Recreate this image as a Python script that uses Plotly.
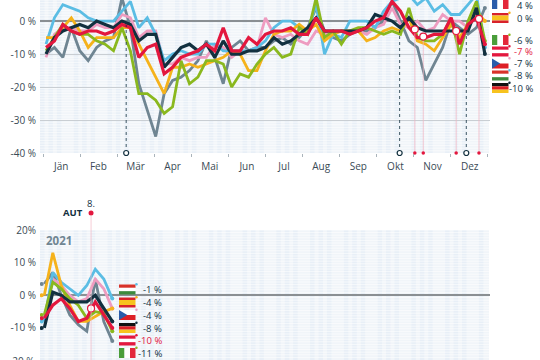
import plotly.graph_objects as go

W, H = 540, 360
months = ["Jän","Feb","Mär","Apr","Mai","Jun","Jul","Aug","Sep","Okt","Nov","Dez"]
month_pos = [1.8,6.2,10.6,15,19.4,23.8,28.2,32.6,37,41.4,45.8,50.2]

austria = [-8,-6,-1,-3,-4,-3,-3,-4,-3,-1,-2,-11,-8,-7,-16,-14,-11,-10,-9,-7,-9,-2,-9,-9,-5,-7,-4,-3,-3,-2,-4,-4,1,-3,-3,-3,-4,-3,-2,0,1,6,3,-2,-5,-5,-4,-4,1,-7,-1,1,-7]
germany = [-10,-5,-3,-2,-1,-2,0,-1,-2,0,-1,-6,-4,-4,-14,-11,-8,-7,-9,-7,-11,-6,-10,-10,-9,-9,-8,-5,-7,-6,-4,-2,1,-3,-3,-3,-3,-3,-2,2,1,0,-2,1,-2,-3,-3,-3,-3,-3,-3,4,-10]
italy = [-9,-5,-1,-3,-4,-4,-6,-7,-9,-2,-9,-22,-22,-24,-28,-26,-12,-19,-17,-12,-12,-13,-20,-16,-17,-13,-10,-8,-11,-10,-2,-4,7,-5,-3,-7,-3,-2,-2,-3,-4,-3,-4,4,-5,-6,-6,-4,1,-10,0,6,-6]
spain = [-5,-5,-2,1,-3,-8,-5,-5,-5,-2,-2,-7,-12,-17,-22,-14,-14,-13,-14,-13,-12,-11,-9,-10,-15,-15,-9,-4,-3,-3,-1,-3,-1,-6,-4,-3,-3,-3,-6,-5,-3,-2,-3,1,-6,-7,-9,-5,-1,-5,-1,3,0]
france = [-10,-8,-11,-2,-9,-12,-8,-6,-5,7,-2,-19,-27,-35,-22,-18,-17,-15,-12,-6,-11,-19,-8,-6,-9,-8,-8,-6,-5,-7,-5,-2,4,-3,-5,-6,-4,-3,-3,-2,0,6,0,-6,-8,-18,-13,-8,0,-2,-4,-2,4]
hungary = [-7,1,5,4,3,1,0,0,0,3,6,-2,1,-4,-12,-10,-9,-10,-10,-7,-7,-9,-9,-9,-9,-8,-6,-2,0,0,-2,-3,5,-10,-4,-5,0,0,0,-2,3,6,7,8,5,7,3,5,2,2,5,8,-8]
czech = [-11,-4,-2,-2,-3,-3,-1,-2,-2,2,1,-5,-3,-3,-13,-13,-11,-12,-11,-11,-7,-8,-11,-9,-9,-8,1,-4,-5,-4,-6,-7,-3,-4,-4,-3,-3,-3,-4,-2,-1,4,-1,-2,0,-3,-2,2,0,0,-2,2,-7]

austria21 = [-7,-3,-1,-4,-8,-7,-2,-6,-10]
germany21 = [-10,1,0,-2,-2,-2,0,-4,-8]
italy21 = [-6,4,2,-1,-3,-7,-5,-5.5,-11]
spain21 = [0,13,3,-3,-8,-8,-6.5,-5,-4]
france21 = [3.5,7,0,-6,-9,-11,5,-8,-14]
hungary21 = [-8,7,4,2,0,3,8,5,-1]
czech21 = [-7,5,3,0,-2,-1,5,2,-4]

RED, DARK, GREEN, ORANGE, GREY, BLUE, PINK = "#e3173e","#12303f","#8ab81e","#f5b21b","#6f8592","#5bbde4","#ee9cc0"
series = [("fr",france,france21,GREY),("cz",czech,czech21,PINK),("hu",hungary,hungary21,BLUE),
          ("es",spain,spain21,ORANGE),("it",italy,italy21,GREEN),("de",germany,germany21,DARK),("at",austria,austria21,RED)]

top_labels = [("4 %",DARK),("0 %",DARK),("-6 %",DARK),("-7 %",RED),("-7 %",DARK),("-8 %",DARK),("-10 %",DARK)]
top_flags = ["fr","es","it","at","cz","hu","de"]
top_flag_y = [-1,13,35,46.5,58.5,70.5,83]
bot_labels = [("-1 %",DARK),("-4 %",DARK),("-4 %",DARK),("-8 %",DARK),("-10 %",RED),("-11 %",DARK)]
bot_flags = ["hu","es","cz","de","at","it"]
bot_flag_y = [284.5,297.5,310,323,335.5,348]
dot_colors = dict(fr=GREY,es=ORANGE,it=GREEN,at=RED,cz=PINK,hu=BLUE,de=DARK)

black_events = [9.5,41.9,49.8]
black_event_y = [-1,-2,-2]
red_events = [43.7,44.7,48.6,51.3]
red_event_y = [-2.5,-4.7,-3,0.7]

def px(v): return v / W
def py(v): return 1 - v / H

fig = go.Figure()
left, right = 40, 490
x0a, stepa = 46, 8.44
x0b, stepb = 44.3, 8.5
ra = [(left-x0a)/stepa, (right-x0a)/stepa]
rb = [(left-x0b)/stepb, (right-x0b)/stepb]

for name, vals, vals21, col in series:
    w = 3.2 if name in ("at","de") else 2.8
    fig.add_trace(go.Scatter(x=list(range(len(vals))), y=vals, mode="lines", line=dict(color=col, width=w), xaxis="x", yaxis="y", showlegend=False, hoverinfo="skip"))
    fig.add_trace(go.Scatter(x=[-0.9,52], y=[vals[0],vals[-1]], mode="markers", marker=dict(color=col,size=4), xaxis="x", yaxis="y", showlegend=False, hoverinfo="skip"))
    fig.add_trace(go.Scatter(x=list(range(len(vals21))), y=vals21, mode="lines", line=dict(color=col, width=w), xaxis="x2", yaxis="y2", showlegend=False, hoverinfo="skip"))
    fig.add_trace(go.Scatter(x=[-0.3,8], y=[vals21[0],vals21[-1]], mode="markers", marker=dict(color=col,size=4), xaxis="x2", yaxis="y2", showlegend=False, hoverinfo="skip"))

for ex, ey in zip(black_events, black_event_y):
    fig.add_trace(go.Scatter(x=[ex,ex], y=[-40,ey], mode="lines", line=dict(color=DARK,width=0.8,dash="dot"), xaxis="x", yaxis="y", showlegend=False, hoverinfo="skip"))
    fig.add_trace(go.Scatter(x=[ex], y=[-40], mode="markers", marker=dict(color="white",size=5,line=dict(color=DARK,width=1.2)), xaxis="x", yaxis="y", showlegend=False, hoverinfo="skip", cliponaxis=False))
for ex, ey in zip(red_events, red_event_y):
    fig.add_trace(go.Scatter(x=[ex,ex], y=[-40,ey], mode="lines", line=dict(color="#f3b3c0",width=0.7), xaxis="x", yaxis="y", showlegend=False, hoverinfo="skip"))
    fig.add_trace(go.Scatter(x=[ex], y=[-40], mode="markers", marker=dict(color=RED,size=3.5), xaxis="x", yaxis="y", showlegend=False, hoverinfo="skip", cliponaxis=False))
    fig.add_trace(go.Scatter(x=[ex], y=[ey], mode="markers", marker=dict(color="white",size=7,line=dict(color=RED,width=1.2)), xaxis="x", yaxis="y", showlegend=False, hoverinfo="skip"))
fig.add_trace(go.Scatter(x=[5.5], y=[-4], mode="markers", marker=dict(color="white",size=7,line=dict(color=RED,width=1.2)), xaxis="x2", yaxis="y2", showlegend=False, hoverinfo="skip"))

shapes = []
for dom_top, dom_bot in [(0,153),(230,360)]:
    shapes.append(dict(type="rect", xref="paper", yref="paper", x0=px(left), x1=px(right-1), y0=py(dom_top), y1=py(dom_bot), fillcolor="#f1f5f9", line_width=0, layer="below"))
    for wk in range(53):
        xa = left + wk*8.44
        if wk % 4 != 3:
            shapes.append(dict(type="rect", xref="paper", yref="paper", x0=px(xa), x1=px(xa+4.5), y0=py(dom_top), y1=py(dom_bot), fillcolor="#e8eff7", line_width=0, layer="below"))
    yy = dom_top
    while yy < dom_bot:
        shapes.append(dict(type="line", xref="paper", yref="paper", x0=px(left), x1=px(right-1), y0=py(yy), y1=py(yy), line=dict(color="rgba(255,255,255,0.6)",width=1), layer="below"))
        yy += 2.6

# the 2021 marker sits above the plot area: x follows the axis, y is on the page
shapes.append(dict(type="line", xref="x2", yref="paper", x0=5.5, x1=5.5, y0=py(360), y1=py(216), line=dict(color="#f3b8c4",width=0.7), layer="above"))
shapes.append(dict(type="circle", xref="x2", yref="paper", xsizemode="pixel", ysizemode="pixel", xanchor=5.5, yanchor=py(213), x0=-2.5, x1=2.5, y0=-2.5, y1=2.5, fillcolor=RED, line_width=0, layer="above"))

def flag(code, x, y, w=16.5, h=10):
    rects = []
    def r(a,b,c,d,col):
        rects.append(dict(type="rect", xref="paper", yref="paper", x0=px(x+a*w), x1=px(x+b*w), y0=py(y+c*h), y1=py(y+d*h), fillcolor=col, line_width=0, layer="above"))
    if code=="fr":
        r(0,1/3,0,1,"#2a5caa"); r(1/3,2/3,0,1,"white"); r(2/3,1,0,1,"#e3273a")
    if code=="it":
        r(0,1/3,0,1,"#4a9d3a"); r(1/3,2/3,0,1,"white"); r(2/3,1,0,1,"#e3273a")
    if code=="es":
        r(0,1,0,.25,"#d8222a"); r(0,1,.25,.75,"#f7c31e"); r(0,1,.75,1,"#d8222a")
    if code=="at":
        r(0,1,0,1/3,"#e3173e"); r(0,1,1/3,2/3,"white"); r(0,1,2/3,1,"#e3173e")
    if code=="hu":
        r(0,1,0,1/3,"#d8322a"); r(0,1,1/3,2/3,"white"); r(0,1,2/3,1,"#3d8a3d")
    if code=="de":
        r(0,1,0,1/3,"#111111"); r(0,1,1/3,2/3,"#dd1f26"); r(0,1,2/3,1,"#f7c31e")
    if code=="cz":
        r(0,1,0,.5,"white"); r(0,1,.5,1,"#dd1f26")
        rects.append(dict(type="path", xref="paper", yref="paper",
            path=f"M {px(x)} {py(y)} L {px(x+w*.5)} {py(y+h/2)} L {px(x)} {py(y+h)} Z",
            fillcolor="#2a5caa", line_width=0, layer="above"))
    rects.append(dict(type="circle", xref="paper", yref="paper", x0=px(x+w-0.3), x1=px(x+w+2.2), y0=py(y-1.5), y1=py(y+1), fillcolor=dot_colors[code], line_width=0, layer="above"))
    return rects

annotations = []
def txt(x, y, s, col=DARK, size=9.5, anchor="right", bold=False):
    annotations.append(dict(xref="paper", yref="paper", x=px(x), y=py(y), text=f"<b>{s}</b>" if bold else s, showarrow=False, xanchor=anchor, yanchor="middle", font=dict(color=col,size=size,family="Open Sans, Noto Sans, sans-serif"), borderpad=0))

for code, fy, (lab,col) in zip(top_flags, top_flag_y, top_labels):
    shapes += flag(code, 492, fy)
    txt(534, max(fy+5, 5.5), lab, col)
for code, fy, (lab,col) in zip(bot_flags, bot_flag_y, bot_labels):
    shapes += flag(code, 119, fy)
    txt(163, fy+5, lab, col)

txt(45, 241, "2021", "#6f8592", 11.5, "left", True)
txt(84, 212, "AUT", DARK, 9.5, "right", True)
txt(91, 203, "8.", DARK, 9.5, "center")
txt(36, 361, "-20 %", "#3a4a55", 10)

axis_font = dict(size=10, color="#3a4a55", family="Open Sans, Noto Sans, sans-serif")
fig.update_layout(
    width=W, height=H, margin=dict(l=0,r=0,t=0,b=0,autoexpand=False), paper_bgcolor="white", plot_bgcolor="rgba(0,0,0,0)",
    showlegend=False, shapes=shapes, annotations=annotations,
    xaxis=dict(automargin=False, domain=[px(left),px(right)], range=ra, anchor="y", tickvals=month_pos, ticktext=months, tickfont=axis_font, ticks="", ticklabelstandoff=6, showgrid=False, zeroline=False, showline=False, fixedrange=True,
               minor=dict(tick0=-0.355, dtick=4.384, ticks="outside", ticklen=3, tickcolor="#aab4bb", tickwidth=1, showgrid=False)),
    yaxis=dict(automargin=False, domain=[py(153),1], range=[-40,6.4], anchor="x", tickvals=[0,-10,-20,-30,-40], ticktext=["0 %","-10 %","-20 %","-30 %","-40 %"], tickfont=axis_font, ticklabelstandoff=3, showgrid=True, gridcolor="#c9ced3", gridwidth=1, zeroline=True, zerolinecolor="#8a8f93", zerolinewidth=1.5, ticks="", fixedrange=True),
    xaxis2=dict(automargin=False, domain=[px(left),px(right)], range=rb, anchor="y2", visible=False, fixedrange=True),
    yaxis2=dict(automargin=False, domain=[0,py(230)], range=[-19.8,20], anchor="x2", tickvals=[20,10,0,-10], ticktext=["20%","10 %","0 %","-10 %"], tickfont=axis_font, ticklabelstandoff=3, showgrid=False, zeroline=True, zerolinecolor="#8a8f93", zerolinewidth=1.5, ticks="", fixedrange=True),
)
fig.write_html("out.html", config={"displayModeBar": False}, post_script="document.body.style.margin='0';document.body.style.overflow='hidden';")
